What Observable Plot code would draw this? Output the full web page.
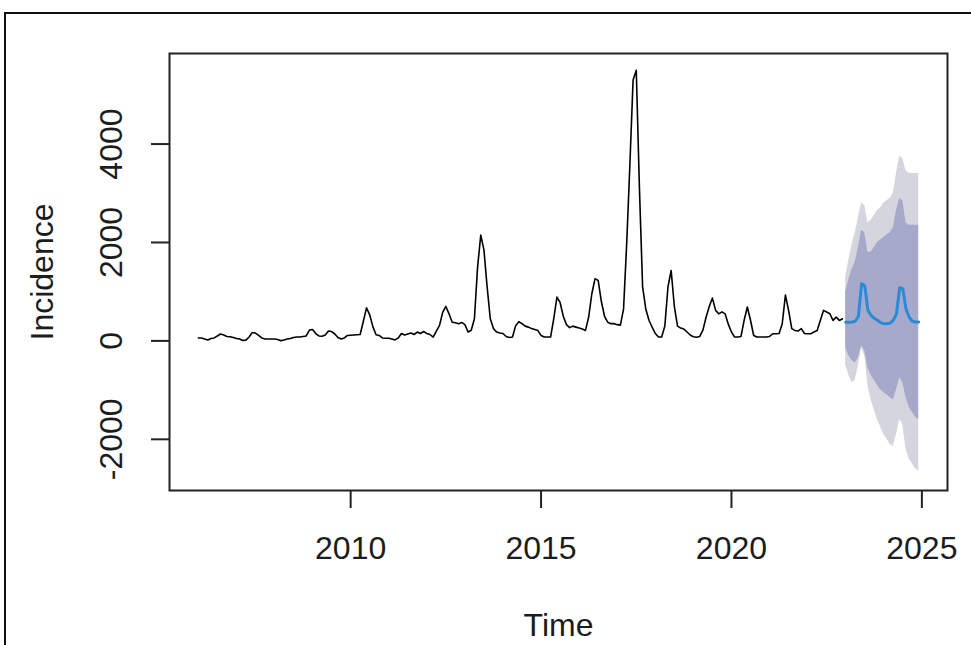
<!DOCTYPE html>
<html>
<head>
<meta charset="utf-8">
<script src="https://cdn.jsdelivr.net/npm/d3@7"></script>
<script src="https://cdn.jsdelivr.net/npm/@observablehq/plot@0.6"></script>
<style>
  body { margin: 0; background: #fff; }
  #wrap { position: relative; width: 971px; height: 645px; overflow: hidden; background: #fff; }
  #wrap svg { position: absolute; left: 0; top: 0; }
  #border { position: absolute; left: 4px; top: 12px; width: 2000px; height: 2000px;
            border-left: 2px solid #111; border-top: 2px solid #111; pointer-events: none; }
</style>
</head>
<body>
<div id="wrap"></div>
<script>
// ---- data (monthly, Jan 2006 .. Dec 2022) ----
const histStart = 2006;
const histValues = [
  60, 60, 40, 20, 50, 60, 100, 140, 120, 90, 85, 70,            // 2006
  50, 40, 10, 15, 80, 170, 160, 110, 60, 40, 40, 40,            // 2007
  40, 30, 5, 20, 40, 50, 70, 80, 80, 90, 100, 220,              // 2008
  230, 150, 100, 95, 120, 200, 190, 140, 70, 40, 60, 110,       // 2009
  115, 120, 125, 130, 400, 670, 530, 290, 125, 110, 60, 55,     // 2010
  55, 40, 20, 60, 150, 120, 140, 160, 130, 180, 150, 190,       // 2011
  150, 130, 78, 200, 315, 580, 700, 550, 380, 370, 350, 375,    // 2012
  330, 180, 215, 450, 1500, 2150, 1850, 1100, 450, 250, 180, 160, // 2013
  150, 90, 70, 80, 310, 390, 350, 300, 280, 250, 230, 210,      // 2014
  111, 78, 78, 78, 450, 890, 780, 500, 330, 270, 300, 280,      // 2015
  260, 240, 213, 485, 958, 1263, 1230, 800, 500, 380, 350, 350, // 2016
  330, 320, 650, 2000, 3600, 5300, 5500, 3100, 1100, 650, 420, 280, // 2017
  150, 78, 78, 300, 1100, 1430, 700, 300, 260, 240, 180, 120,   // 2018
  85, 75, 90, 220, 480, 700, 870, 620, 550, 590, 550, 340,      // 2019
  180, 78, 78, 90, 420, 690, 420, 110, 78, 78, 78, 80,          // 2020
  90, 145, 145, 150, 350, 930, 620, 250, 213, 200, 250, 150,    // 2021
  145, 145, 180, 213, 416, 620, 586, 552, 416, 484, 416, 450    // 2022
];

// ---- forecast (monthly, Jan 2023 .. Dec 2024) ----
const fcStart = 2023;
const fcMean = [380, 380, 385, 400, 500, 1160, 1120, 620, 520, 460, 420, 370,
                350, 350, 360, 420, 550, 1080, 1060, 650, 480, 400, 385, 382];
const fcHi80 = [1000, 1250, 1450, 1600, 1900, 2250, 2200, 1800, 1800, 1900, 2000, 2050,
                2100, 2150, 2200, 2300, 2650, 2900, 2850, 2400, 2350, 2350, 2350, 2350];
const fcLo80 = [-150, -300, -400, -450, -350, -100, -200, -550, -700, -800, -900, -1000,
                -1050, -1100, -1150, -1200, -1000, -750, -850, -1150, -1350, -1450, -1550, -1600];
const fcHi95 = [1300, 1650, 1950, 2200, 2500, 2800, 2750, 2400, 2450, 2550, 2650, 2700,
                2800, 2850, 2900, 3000, 3400, 3750, 3700, 3450, 3400, 3400, 3400, 3400];
const fcLo95 = [-500, -700, -850, -800, -500, -150, -300, -900, -1200, -1400, -1600, -1750,
                -1900, -2000, -2100, -2150, -1900, -1600, -1700, -2200, -2400, -2500, -2600, -2650];

const xTicks = [2010, 2015, 2020, 2025];
const yTicks = [-2000, 0, 2000, 4000];
const xLabel = "Time";
const yLabel = "Incidence";

// ---- tables ----
const hist = histValues.map((v, i) => ({t: histStart + i / 12, v}));
const fc = fcMean.map((m, i) => ({
  t: fcStart + i / 12, mean: m,
  lo80: fcLo80[i], hi80: fcHi80[i], lo95: fcLo95[i], hi95: fcHi95[i]
}));

const FONT = "Liberation Sans, Arial, sans-serif";
const FS = 32;
const TXT = "#1c1c1c";

const chart = Plot.plot({
  width: 971,
  height: 645,
  marginLeft: 169,
  marginRight: 24,
  marginTop: 53,
  marginBottom: 155,
  style: {fontFamily: FONT, background: "#fff", color: TXT},
  x: {domain: [2005.243, 2025.673], label: null},
  y: {domain: [-3040, 5840], label: null},
  marks: [
    Plot.areaY(fc, {x: "t", y1: "lo95", y2: "hi95", fill: "#d4d5de"}),
    Plot.areaY(fc, {x: "t", y1: "lo80", y2: "hi80", fill: "#a6a9ca"}),
    Plot.line(hist, {x: "t", y: "v", stroke: "#000", strokeWidth: 1.6}),
    Plot.line(fc, {x: "t", y: "mean", stroke: "#2b8ad8", strokeWidth: 3}),
    Plot.frame({stroke: "#222", strokeWidth: 2}),
    Plot.axisX({ticks: xTicks, tickSize: 18, tickFormat: () => "", label: null, stroke: "#222", strokeWidth: 2}),
    Plot.axisY({ticks: yTicks, tickSize: 18, tickFormat: () => "", label: null, stroke: "#222", strokeWidth: 2}),
    Plot.text(xTicks, {x: d => d, frameAnchor: "bottom", dy: 58, textAnchor: "middle", lineAnchor: "middle",
      text: d => String(d), fontSize: FS, fill: TXT}),
    Plot.text(yTicks, {y: d => d, frameAnchor: "left", dx: -58, rotate: -90, textAnchor: "middle",
      lineAnchor: "middle", text: d => String(d), fontSize: FS, fill: TXT}),
    Plot.text([xLabel], {frameAnchor: "bottom", dy: 135, textAnchor: "middle", lineAnchor: "middle",
      text: d => d, fontSize: FS, fill: TXT}),
    Plot.text([yLabel], {frameAnchor: "left", dx: -127, rotate: -90, textAnchor: "middle",
      lineAnchor: "middle", text: d => d, fontSize: FS, fill: TXT})
  ]
});

const wrap = document.getElementById("wrap");
wrap.appendChild(chart);
const border = document.createElement("div");
border.id = "border";
wrap.appendChild(border);
</script>
</body>
</html>
